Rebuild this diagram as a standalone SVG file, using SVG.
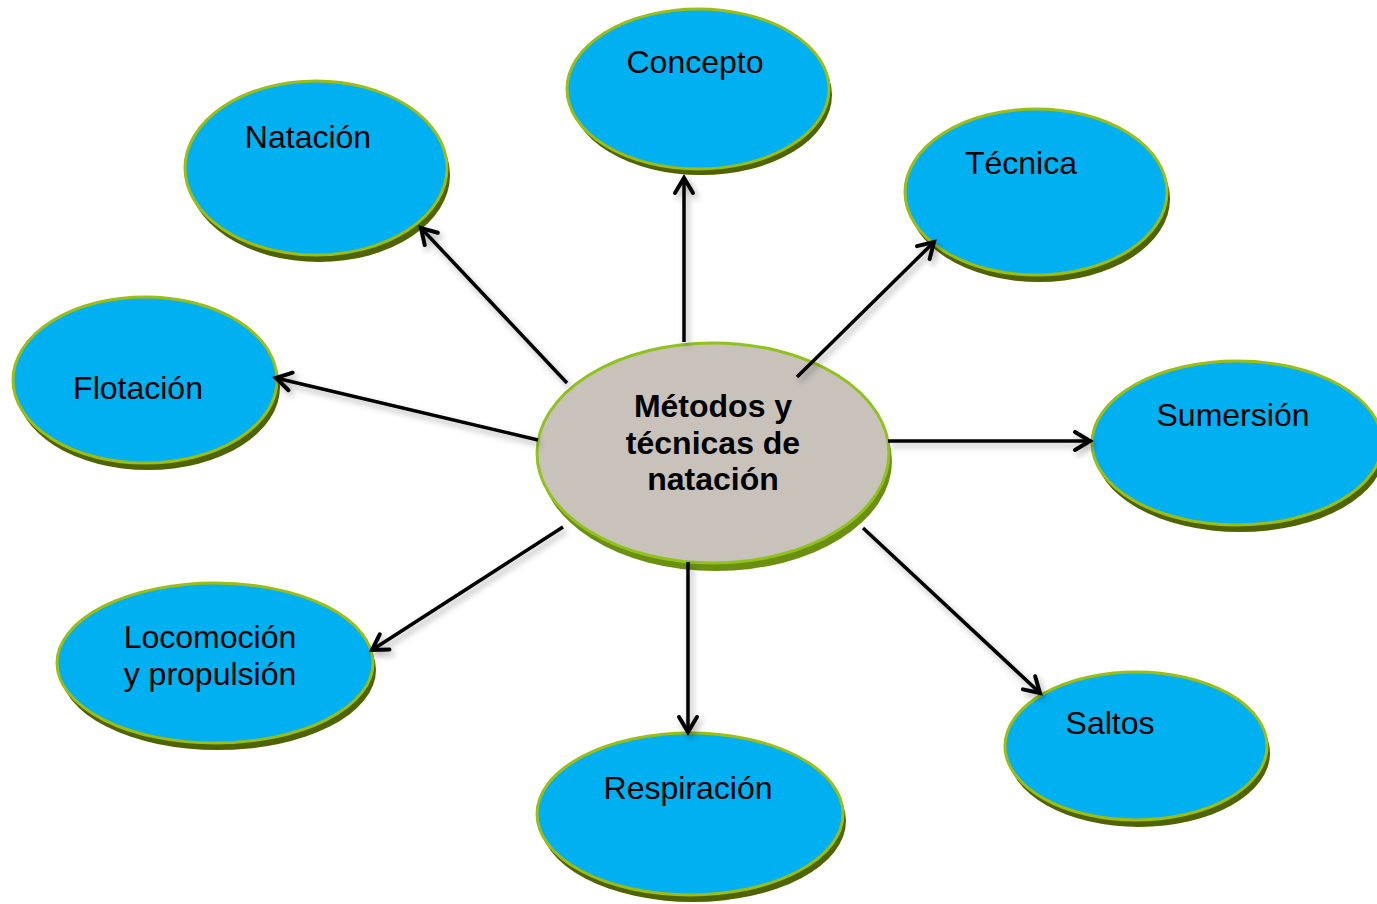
<svg xmlns="http://www.w3.org/2000/svg" width="1377" height="904" viewBox="0 0 1377 904">
  <defs>
    <filter id="sh" x="-20%" y="-20%" width="140%" height="140%">
      <feDropShadow dx="3" dy="4" stdDeviation="3" flood-color="#000" flood-opacity="0.3"/>
    </filter>
    <marker id="arr" markerUnits="userSpaceOnUse" markerWidth="40" markerHeight="40" viewBox="-20 -20 40 40" refX="0" refY="0" orient="auto" overflow="visible">
      <path d="M-15,-9 L0,0 L-15,9" fill="none" stroke="#000" stroke-width="4" stroke-linecap="round" stroke-linejoin="miter"/>
    </marker>
  </defs>
  <style>
    .ext { fill: #4f6300; }
    .extc { fill: #6c8f12; }
    .node { fill: #00b0f0; stroke: #9cbd12; stroke-width: 3; }
    .center { fill: #c8c2bb; stroke: #8fc21c; stroke-width: 3; }
    .lbl { font-family: "Liberation Sans", Arial, sans-serif; font-size: 32px; fill: #000; text-anchor: middle; }
    .clbl { font-family: "Liberation Sans", Arial, sans-serif; font-size: 32px; font-weight: bold; fill: #000; text-anchor: middle; }
    .conn { stroke: #000; stroke-width: 3.5; fill: none; marker-end: url(#arr); }
  </style>
  <rect width="1377" height="904" fill="#fff"/>

  <g id="concepto">
    <ellipse class="ext" cx="701" cy="95" rx="131" ry="80"/>
    <ellipse class="node" cx="698" cy="89" rx="131" ry="80"/>
    <text class="lbl" x="695" y="73">Concepto</text>
  </g>
  <g id="natacion">
    <ellipse class="ext" cx="319" cy="175" rx="131" ry="87"/>
    <ellipse class="node" cx="316" cy="168" rx="131" ry="87"/>
    <text class="lbl" x="308" y="148">Natación</text>
  </g>
  <g id="tecnica">
    <ellipse class="ext" cx="1039" cy="199" rx="131" ry="83"/>
    <ellipse class="node" cx="1036" cy="192" rx="131" ry="83"/>
    <text class="lbl" x="1021" y="174">Técnica</text>
  </g>
  <g id="flotacion">
    <ellipse class="ext" cx="148" cy="387" rx="132" ry="83"/>
    <ellipse class="node" cx="145" cy="380" rx="132" ry="83"/>
    <text class="lbl" x="138" y="399">Flotación</text>
  </g>
  <g id="sumersion">
    <ellipse class="ext" cx="1240" cy="450" rx="145" ry="82"/>
    <ellipse class="node" cx="1237" cy="443" rx="145" ry="82"/>
    <text class="lbl" x="1233" y="426">Sumersión</text>
  </g>
  <g id="locomocion">
    <ellipse class="ext" cx="218" cy="670" rx="158" ry="80"/>
    <ellipse class="node" cx="215" cy="663" rx="158" ry="80"/>
    <text class="lbl" x="210" y="648">Locomoción</text>
    <text class="lbl" x="210" y="685">y propulsión</text>
  </g>
  <g id="respiracion">
    <ellipse class="ext" cx="693" cy="821" rx="153" ry="81"/>
    <ellipse class="node" cx="690" cy="814" rx="153" ry="81"/>
    <text class="lbl" x="688" y="799">Respiración</text>
  </g>
  <g id="saltos">
    <ellipse class="ext" cx="1139" cy="753" rx="131" ry="74"/>
    <ellipse class="node" cx="1136" cy="746" rx="131" ry="74"/>
    <text class="lbl" x="1110" y="734">Saltos</text>
  </g>
  <g id="centro">
    <ellipse class="extc" cx="716" cy="461" rx="176" ry="110"/>
    <ellipse class="center" cx="713" cy="453" rx="176" ry="110"/>
    <text class="clbl" x="713" y="417">Métodos y</text>
    <text class="clbl" x="713" y="454">técnicas de</text>
    <text class="clbl" x="713" y="490">natación</text>
  </g>

  <g id="connectors" filter="url(#sh)">
    <line class="conn" x1="684" y1="342" x2="684" y2="178"/>
    <line class="conn" x1="567" y1="383" x2="421" y2="228"/>
    <line class="conn" x1="797" y1="377" x2="934" y2="242"/>
    <line class="conn" x1="538" y1="440" x2="276" y2="378"/>
    <line class="conn" x1="888" y1="441" x2="1090" y2="441"/>
    <line class="conn" x1="563" y1="527" x2="372" y2="650"/>
    <line class="conn" x1="688" y1="562" x2="688" y2="732"/>
    <line class="conn" x1="863" y1="528" x2="1040" y2="693"/>
  </g>
</svg>
